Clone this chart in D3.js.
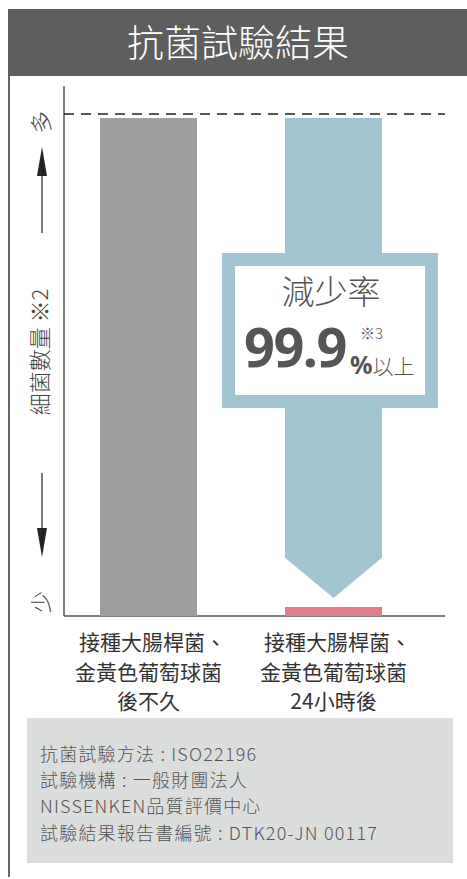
<!DOCTYPE html>
<html>
<head>
<meta charset="utf-8">
<script src="https://cdn.jsdelivr.net/npm/d3@7"></script>
<style>
  body { margin: 0; background: #fff; }
  svg { display: block; }
</style>
</head>
<body>
<div id="chart"></div>
<script>
// data
var categories = ["接種大腸桿菌、\n金黃色葡萄球菌\n後不久", "接種大腸桿菌、\n金黃色葡萄球菌\n24小時後"];
var bacteriaValues = [99.2, 1.8];
var barColors = ["#9e9e9e", "#e07f89"];
var maxLine = 100;
// reduction arrow: from top of bar down to shaft end / tip
var arrowValues = [99.2, 11.6, 3.6];
var notes = ["抗菌試驗方法 : ISO22196", "試驗機構 : 一般財團法人", "NISSENKEN品質評價中心", "試驗結果報告書編號 : DTK20-JN 00117"];

var width = 467, height = 879;
var cjk = "'Noto Sans CJK TC', 'Noto Sans CJK JP', sans-serif";

var svg = d3.select("#chart").append("svg")
    .attr("width", width)
    .attr("height", height);

// header band
svg.append("rect")
    .attr("x", 8).attr("y", 9)
    .attr("width", width - 8).attr("height", 67)
    .attr("fill", "#5e5e5e");
svg.append("text")
    .text("抗菌試驗結果")
    .attr("x", 238).attr("y", 57)
    .attr("text-anchor", "middle")
    .attr("font-family", cjk)
    .attr("font-weight", 300)
    .attr("font-size", "37px")
    .attr("fill", "#fff");

// left frame line
svg.append("line")
    .attr("x1", 9).attr("x2", 9)
    .attr("y1", 76).attr("y2", 877)
    .attr("stroke", "#666").attr("stroke-width", 2);

// scales
var y = d3.scaleLinear().domain([0, maxLine]).range([616, 114]);
var x = d3.scaleBand().domain(categories).range([100, 382]).paddingInner(0.4757);

// axes lines
svg.append("line")
    .attr("x1", 64).attr("x2", 64)
    .attr("y1", 86).attr("y2", y(0))
    .attr("stroke", "#555").attr("stroke-width", 1.5);
svg.append("line")
    .attr("x1", 64).attr("x2", 445)
    .attr("y1", y(0)).attr("y2", y(0))
    .attr("stroke", "#555").attr("stroke-width", 1.5);
svg.append("line")
    .attr("x1", 64).attr("x2", 445)
    .attr("y1", y(maxLine)).attr("y2", y(maxLine))
    .attr("stroke", "#222").attr("stroke-width", 1.5)
    .style("stroke-dasharray", "10, 7");

// bars
svg.selectAll("rect.bar")
    .data(bacteriaValues)
    .enter()
    .append("rect")
    .attr("class", "bar")
    .attr("x", function (d, i) { return x(categories[i]); })
    .attr("y", function (d) { return y(d); })
    .attr("width", x.bandwidth())
    .attr("height", function (d) { return y(0) - y(d); })
    .attr("fill", function (d, i) { return barColors[i]; });

// big blue arrow over second category
var ax0 = x(categories[1]), ax1 = ax0 + x.bandwidth(), axm = ax0 + x.bandwidth() / 2;
svg.append("path")
    .attr("d", "M" + ax0 + "," + y(arrowValues[0]) +
        "L" + ax1 + "," + y(arrowValues[0]) +
        "L" + ax1 + "," + y(arrowValues[1]) +
        "L" + axm + "," + y(arrowValues[2]) +
        "L" + ax0 + "," + y(arrowValues[1]) + "Z")
    .attr("fill", "#a0c4d0");

// reduction box
svg.append("rect")
    .attr("x", 228.5).attr("y", 259.5)
    .attr("width", 203).attr("height", 142)
    .attr("fill", "#fff")
    .attr("stroke", "#a0c4d0").attr("stroke-width", 13);
svg.append("text")
    .text("減少率")
    .attr("x", 331).attr("y", 304)
    .attr("text-anchor", "middle")
    .attr("font-family", cjk)
    .attr("font-weight", 300)
    .attr("font-size", "33px")
    .attr("fill", "#555");
svg.append("text")
    .text("99.9")
    .attr("x", 244).attr("y", 367)
    .attr("font-family", "'Noto Sans', sans-serif")
    .attr("font-weight", "bold")
    .attr("font-size", "54px")
    .attr("letter-spacing", "-1.5px")
    .attr("fill", "#555");
svg.append("text")
    .text("※3")
    .attr("x", 360).attr("y", 339)
    .attr("font-family", cjk)
    .attr("font-weight", 300)
    .attr("font-size", "15px")
    .attr("fill", "#555");
var pct = svg.append("text")
    .attr("x", 350).attr("y", 374)
    .attr("font-family", cjk)
    .attr("fill", "#555");
pct.append("tspan").text("%")
    .attr("font-family", "'Noto Sans', sans-serif")
    .attr("font-weight", "bold")
    .attr("font-size", "25px");
pct.append("tspan").text("以上")
    .attr("font-weight", 300)
    .attr("font-size", "21px");

// y-axis label (rotated)
function vtext(t, cx, cy, size) {
    svg.append("text")
        .text(t)
        .attr("transform", "translate(" + cx + "," + cy + ") rotate(-90)")
        .attr("text-anchor", "middle")
        .attr("dy", "0.36em")
        .attr("font-family", cjk)
        .attr("font-weight", 300)
        .attr("font-size", size + "px")
        .attr("fill", "#444");
}
vtext("多", 41, 122, 22);
vtext("細菌數量 ※2", 40, 352, 22);
vtext("少", 41, 602, 22);

// up/down arrows beside the label
var arrows = [[233, 147], [473, 557]];
arrows.forEach(function (a) {
    var dir = a[1] < a[0] ? -1 : 1;
    svg.append("line")
        .attr("x1", 42).attr("x2", 42)
        .attr("y1", a[0]).attr("y2", a[1] - dir * 20)
        .attr("stroke", "#333").attr("stroke-width", 1.3);
    svg.append("path")
        .attr("d", "M42," + a[1] + "L37," + (a[1] - dir * 29) + "L47," + (a[1] - dir * 29) + "Z")
        .attr("fill", "#222");
});

// category labels
categories.forEach(function (c, i) {
    var t = svg.append("text")
        .attr("text-anchor", "middle")
        .attr("font-family", cjk)
        .attr("font-size", "21px")
        .attr("fill", "#333");
    c.split("\n").forEach(function (line, j) {
        t.append("tspan")
            .text(line)
            .attr("x", x(c) + x.bandwidth() / 2 + (j === 0 ? 4 : 0))
            .attr("y", 650 + j * 29.5);
    });
});

// note box
svg.append("rect")
    .attr("x", 27).attr("y", 718)
    .attr("width", 426).attr("height", 145)
    .attr("fill", "#dcdddd");
svg.selectAll("text.note")
    .data(notes)
    .enter()
    .append("text")
    .attr("class", "note")
    .text(function (d) { return d; })
    .attr("x", 40)
    .attr("y", function (d, i) { return 761 + i * 26.2; })
    .attr("font-family", cjk)
    .attr("font-weight", 300)
    .attr("font-size", "18px")
    .attr("letter-spacing", "1.2px")
    .attr("fill", "#555");
</script>
</body>
</html>
